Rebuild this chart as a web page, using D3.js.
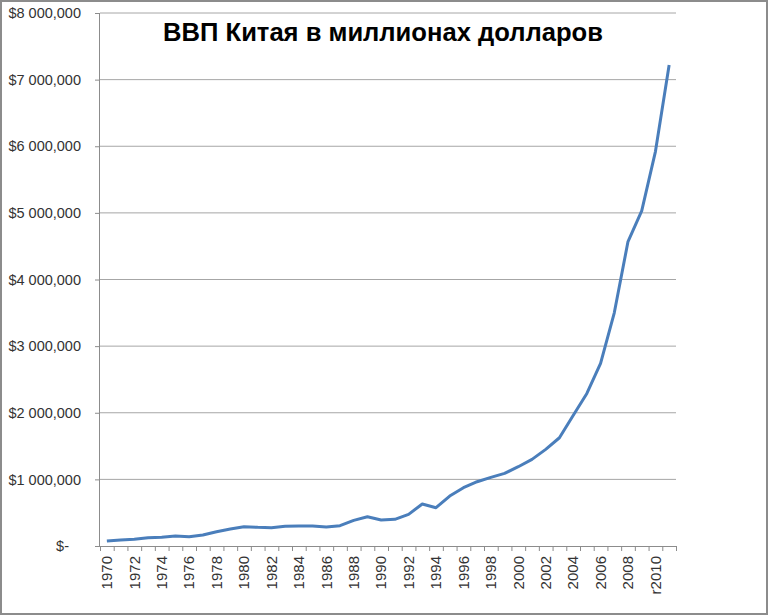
<!DOCTYPE html>
<html>
<head>
<meta charset="utf-8">
<script src="https://cdn.jsdelivr.net/npm/d3@7"></script>
<style>
  body { margin: 0; background: #fff; }
  svg { display: block; }
</style>
</head>
<body>
<svg id="chart"></svg>
<script>
// categories (years) and GDP values, millions of USD
const years = ["1970","1971","1972","1973","1974","1975","1976","1977","1978","1979",
  "1980","1981","1982","1983","1984","1985","1986","1987","1988","1989",
  "1990","1991","1992","1993","1994","1995","1996","1997","1998","1999",
  "2000","2001","2002","2003","2004","2005","2006","2007","2008","2009",
  "2010","2011"];
const gdp = [75000, 90000, 100000, 125000, 130000, 150000, 140000, 165000, 215000, 255000,
  290000, 280000, 275000, 295000, 300000, 300000, 285000, 305000, 385000, 440000,
  390000, 400000, 475000, 630000, 575000, 750000, 875000, 965000, 1030000, 1090000,
  1190000, 1300000, 1450000, 1625000, 1960000, 2290000, 2740000, 3500000, 4570000, 5030000,
  5920000, 7220000];

// labelled categories on x axis and their texts
const xTickYears = ["1970","1972","1974","1976","1978","1980","1982","1984","1986","1988",
  "1990","1992","1994","1996","1998","2000","2002","2004","2006","2008","2010"];
const xTickLabels = ["1970","1972","1974","1976","1978","1980","1982","1984","1986","1988",
  "1990","1992","1994","1996","1998","2000","2002","2004","2006","2008","r2010"];

const yTickValues = [0, 1000000, 2000000, 3000000, 4000000, 5000000, 6000000, 7000000, 8000000];
const yTickLabels = ["$-", "$1 000,000", "$2 000,000", "$3 000,000", "$4 000,000",
  "$5 000,000", "$6 000,000", "$7 000,000", "$8 000,000"];

const title = "ВВП Китая в миллионах долларов";

const width = 768;
const height = 616;
const margin = { top: 13, right: 92, bottom: 70, left: 100 };

const svg = d3.select("#chart").attr("width", width).attr("height", height);

// outer frame
svg.append("rect")
  .attr("x", 1).attr("y", 1)
  .attr("width", width - 2).attr("height", height - 3)
  .attr("fill", "#fff")
  .attr("stroke", "#8c8c8c")
  .attr("stroke-width", 2);

const x = d3.scaleBand()
  .domain(years)
  .range([margin.left, width - margin.right])
  .padding(0);

// category boundaries for tick marks
const xEdge = d3.scaleLinear()
  .domain([0, years.length])
  .range([margin.left, width - margin.right]);

const y = d3.scaleLinear()
  .domain([0, 8000000])
  .range([height - margin.bottom, margin.top]);

// gridlines
svg.append("g")
  .selectAll("line")
  .data(yTickValues.slice(1))
  .join("line")
  .attr("x1", margin.left)
  .attr("x2", width - margin.right)
  .attr("y1", d => y(d))
  .attr("y2", d => y(d))
  .attr("stroke", "#a6a6a6")
  .attr("stroke-width", 1);

// y axis
const yAxis = svg.append("g")
  .attr("transform", `translate(${margin.left},0)`)
  .call(d3.axisLeft(y)
    .tickValues(yTickValues)
    .tickSize(5)
    .tickPadding(14)
    .tickFormat((d, i) => yTickLabels[i]));
yAxis.select(".domain").attr("stroke", "#8c8c8c").attr("d", `M-0.5,${y(8000000)}V${y(0)}`);
yAxis.selectAll(".tick line").attr("stroke", "#8c8c8c");
yAxis.selectAll("text")
  .style("font-family", "'Liberation Sans', Arial, sans-serif")
  .style("font-size", "14.5px")
  .attr("fill", "#333");
yAxis.selectAll(".tick").filter(d => d === 0).select("text").attr("x", -31);

// x axis tick marks at category boundaries
const xAxis = svg.append("g")
  .attr("transform", `translate(0,${y(0)})`)
  .call(d3.axisBottom(xEdge)
    .tickValues(d3.range(years.length + 1))
    .tickSize(5)
    .tickFormat(""));
xAxis.select(".domain").attr("stroke", "#8c8c8c")
  .attr("d", `M${margin.left - 5},0.5H${width - margin.right}`);
xAxis.selectAll(".tick line").attr("stroke", "#8c8c8c");

// x axis labels, rotated
const xLabels = svg.append("g")
  .attr("transform", `translate(0,${y(0)})`)
  .call(d3.axisBottom(x)
    .tickValues(xTickYears)
    .tickSize(0)
    .tickFormat((d, i) => xTickLabels[i]));
xLabels.select(".domain").remove();
xLabels.selectAll("text")
  .attr("transform", "rotate(-90)")
  .attr("x", -10)
  .attr("y", 0)
  .attr("dy", "0.35em")
  .style("text-anchor", "end")
  .style("font-family", "'Liberation Sans', Arial, sans-serif")
  .style("font-size", "15px")
  .attr("fill", "#333");

// GDP line
const line = d3.line()
  .x((d, i) => x(years[i]) + x.bandwidth() / 2)
  .y(d => y(d));

svg.append("path")
  .datum(gdp)
  .attr("fill", "none")
  .attr("stroke", "#4a7ebb")
  .attr("stroke-width", 3)
  .attr("stroke-linejoin", "round")
  .attr("d", line);

// title
const t = svg.append("text")
  .attr("x", 383)
  .attr("y", 41)
  .attr("text-anchor", "middle")
  .style("font-family", "'Liberation Sans', Arial, sans-serif")
  .style("font-weight", "bold")
  .style("font-size", "25px")
  .attr("fill", "#000")
  .text(title);
const tw = t.node().getComputedTextLength();
t.style("font-size", (25 * 440 / tw).toFixed(2) + "px");
</script>
</body>
</html>
